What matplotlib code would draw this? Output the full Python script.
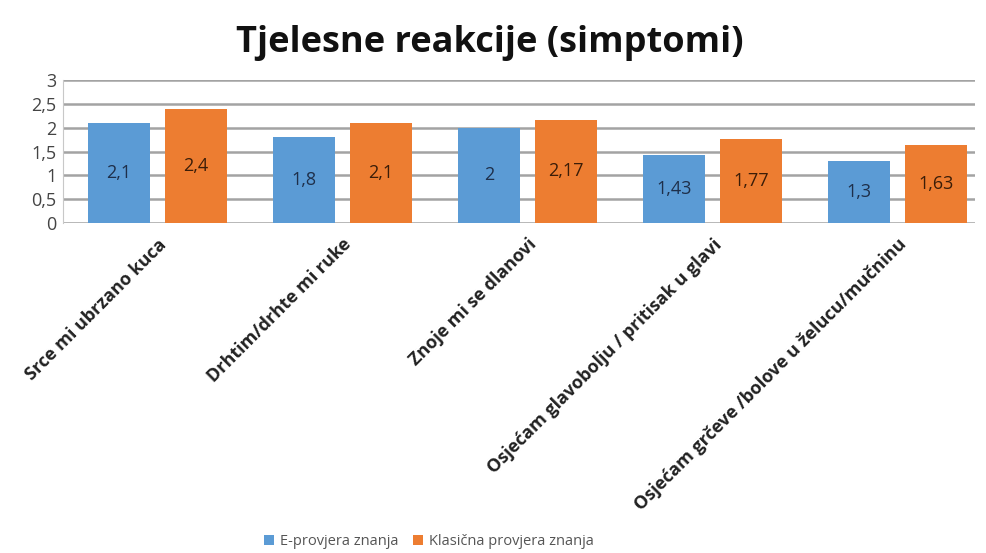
import matplotlib.pyplot as plt
import numpy as np

plt.rcParams["font.family"] = ["Open Sans", "DejaVu Sans"]

COR_E = "#5B9BD5"
COR_K = "#ED7D31"

kategorije = [
    "Srce mi ubrzano kuca",
    "Drhtim/drhte mi ruke",
    "Znoje mi se dlanovi",
    "Osjećam glavobolju / pritisak u glavi",
    "Osjećam grčeve /bolove u želucu/mučninu",
]
e_provjera = [2.1, 1.8, 2.0, 1.43, 1.3]
klasicna = [2.4, 2.1, 2.17, 1.77, 1.63]
e_oznake = ["2,1", "1,8", "2", "1,43", "1,3"]
k_oznake = ["2,4", "2,1", "2,17", "1,77", "1,63"]
y_ticks = [0, 0.5, 1, 1.5, 2, 2.5, 3]
y_tick_oznake = ["0", "0,5", "1", "1,5", "2", "2,5", "3"]

fig = plt.figure(figsize=(9.86, 5.53), dpi=100)
ax = fig.add_axes([0.064, 0.597, 0.925, 0.258])

x = np.arange(len(kategorije))
w = 0.335
b1 = ax.bar(x - 0.207, e_provjera, w, color=COR_E, label="E-provjera znanja", zorder=3)
b2 = ax.bar(x + 0.207, klasicna, w, color=COR_K, label="Klasična provjera znanja", zorder=3)

for bars, oznake, boja in [(b1, e_oznake, "#1e2f4a"), (b2, k_oznake, "#3b1d08")]:
    for bar, oz in zip(bars, oznake):
        ax.text(bar.get_x() + bar.get_width() / 2, bar.get_height() / 2, oz,
                ha="center", va="center", fontsize=13, color=boja, zorder=4)

ax.set_xlim(-0.51, 4.42)
ax.set_ylim(0, 3)
ax.set_yticks(y_ticks)
ax.set_yticklabels(y_tick_oznake, fontsize=13, color="#444444")
ax.yaxis.grid(True, color="#a3a3a3", linewidth=1.8, zorder=0)
for s in ax.spines.values():
    s.set_visible(False)
ax.spines["left"].set_visible(True)
ax.spines["left"].set_color("#c8c8c8")
ax.tick_params(axis="both", length=0, pad=5)

ax.set_xticks(x + 0.0)
ax.set_xticklabels(kategorije, rotation=45, ha="right", rotation_mode="anchor",
                   fontsize=13, fontweight="bold", color="#222222")
ax.tick_params(axis="x", pad=9)

fig.text(0.497, 0.922, "Tjelesne reakcije (simptomi)", ha="center", va="center",
         fontsize=26, fontweight="bold", color="#111111")

fig.legend(loc="lower center", bbox_to_anchor=(0.435, -0.016), ncol=2, frameon=False,
           fontsize=10.5, handlelength=0.7, handleheight=0.7, handletextpad=0.4,
           columnspacing=1.0, labelcolor="#555555")

fig.savefig("out.png", dpi=100)
